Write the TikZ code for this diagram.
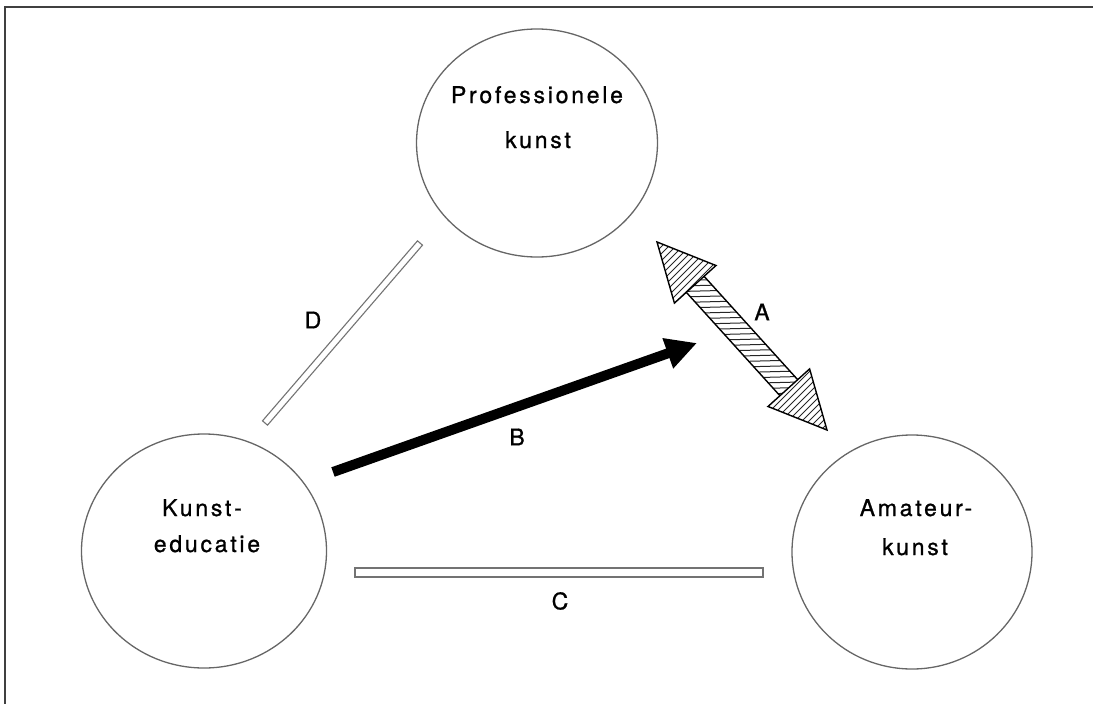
\documentclass[tikz,border=0pt]{standalone}
\usepackage{fontspec}
\usetikzlibrary{shapes.geometric,arrows.meta,calc}
\newfontfamily\labelfont[LetterSpace=12, FakeBold=0.9]{TeX Gyre Heros}
\newfontfamily\letterfont[FakeBold=0.9]{TeX Gyre Heros}

\tikzset{
  areanode/.style={ellipse, draw=black!60, line width=1.3pt, inner sep=0pt},
  areatext/.style={anchor=base, inner sep=0pt, font=\labelfont\fontsize{23}{23}\selectfont},
  relname/.style={inner sep=0pt, font=\letterfont\fontsize{23}{23}\selectfont},
  frameline/.style={draw=black!75, line width=1.5pt},
  openbar/.style={draw=black!55, line width=1.1pt, fill=white},
  boldarrow/.style={line width=10pt, -{Triangle[length=31pt,width=30pt]}},
  hatchedge/.style={draw=black, line width=1.4pt, line join=miter},
  hatchline/.style={draw=black!85, line width=1.0pt},
}

\begin{document}
\begin{tikzpicture}[x=1pt, y=-1pt]
\useasboundingbox (0,0) rectangle (1093,704);

% frame (top and left edges)
\coordinate (FL) at (5,704);
\coordinate (FC) at (5,7);
\coordinate (FR) at (1093,7);
\draw[frameline] (FL) -- (FC) -- (FR);

% the three areas
\node[areanode, minimum width=241pt, minimum height=228pt] (prof) at (537,143) {};
\node[areanode, minimum width=245pt, minimum height=234pt] (edu)  at (204,551) {};
\node[areanode, minimum width=240pt, minimum height=234pt] (ama)  at (912,552) {};

\node[areatext] (prof1) at (537,103) {Professionele};
\node[areatext] (prof2) at (538,148) {kunst};
\node[areatext] (edu1)  at (202,516) {Kunst-};
\node[areatext] (edu2)  at (207,552) {educatie};
\node[areatext] (ama1)  at (916,516) {Amateur-};
\node[areatext] (ama2)  at (915,555) {kunst};

% D: open bar between education and professional art
\coordinate (D0) at (265,423);
\coordinate (D1) at (420,243);
\draw[openbar] ($(D0)!3.3pt!90:(D1)$) -- ($(D1)!3.3pt!-90:(D0)$)
        -- ($(D1)!3.3pt!90:(D0)$) -- ($(D0)!3.3pt!-90:(D1)$) -- cycle;

% C: open bar between education and amateur art
\coordinate (C0) at (355,572.5);
\coordinate (C1) at (763,572.5);
\draw[openbar] ($(C0)!4.5pt!90:(C1)$) -- ($(C1)!4.5pt!-90:(C0)$)
        -- ($(C1)!4.5pt!90:(C0)$) -- ($(C0)!4.5pt!-90:(C1)$) -- cycle;

% B: solid arrow from education towards the A relation
\coordinate (B0) at (333,472);
\coordinate (B1) at (697,343);
\draw[boldarrow] (B0) -- (B1);

% A: hatched double arrow between professional and amateur art
\coordinate (A1)  at (657,242);
\coordinate (H1a) at (716.0,265.5);
\coordinate (H1b) at (674.4,303.1);
\coordinate (S1a) at (704.1,276.3);
\coordinate (S1b) at (686.3,292.3);
\coordinate (S2a) at (797.7,379.7);
\coordinate (S2b) at (779.9,395.7);
\coordinate (H2a) at (809.6,368.9);
\coordinate (H2b) at (768.0,406.5);
\coordinate (A2)  at (827,430);

\begin{scope}
  \clip (A1) -- (H1a) -- (H1b) -- cycle (A2) -- (H2b) -- (H2a) -- cycle;
  \foreach \c in {880,887,...,1275}
    \draw[hatchline] (\c-150,150) -- (\c-500,500);
\end{scope}
\begin{scope}
  \clip (S1a) -- (S2a) -- (S2b) -- (S1b) -- cycle;
  \foreach \yy in {268,273.5,...,405}
    \draw[hatchline] (660,\yy+2) -- (820,\yy-2);
\end{scope}
\draw[hatchedge] (A1) -- (H1a) -- (H1b) -- cycle;
\draw[hatchedge] (A2) -- (H2a) -- (H2b) -- cycle;
\draw[hatchedge] (S1a) -- (S2a);
\draw[hatchedge] (S1b) -- (S2b);

% relation letters
\node[relname] (lA) at (762,312) {A};
\node[relname] (lB) at (517,437) {B};
\node[relname] (lC) at (560,601) {C};
\node[relname] (lD) at (313,320) {D};
\end{tikzpicture}
\end{document}
